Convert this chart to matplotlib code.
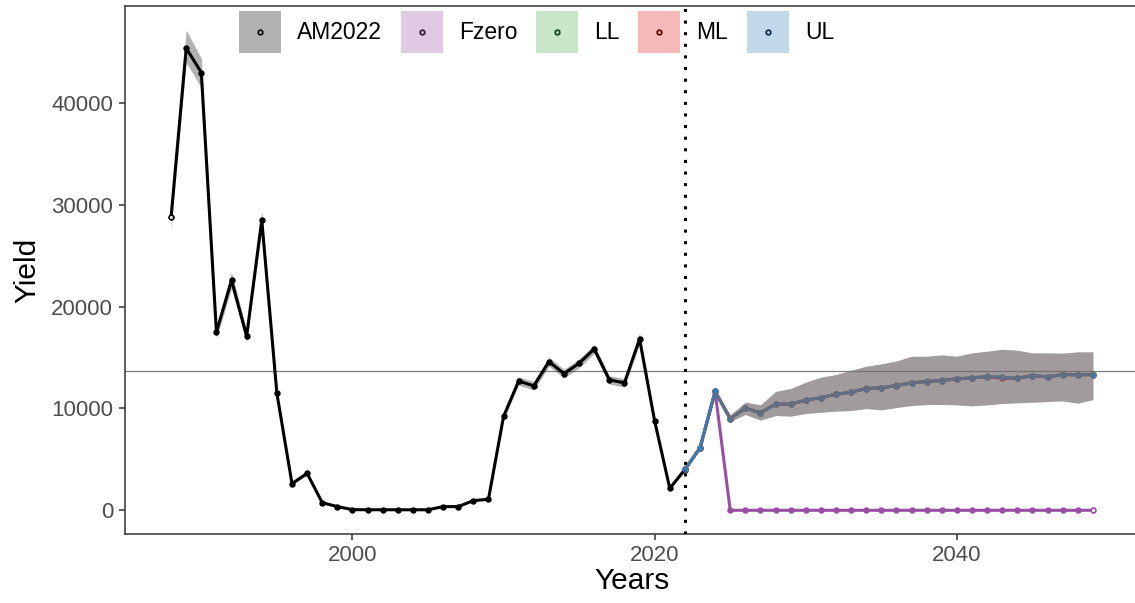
import matplotlib
matplotlib.use("Agg")
import matplotlib.pyplot as plt
from matplotlib.patches import Rectangle
from matplotlib.lines import Line2D

plt.rcParams['font.family'] = ['Liberation Sans', 'DejaVu Sans']

# ---- assessment (historical) yield ----
hist_years = list(range(1988, 2023))
hist_yield = [28800, 45400, 43000, 17500, 22600, 17100, 28500, 11500, 2620, 3630,
              750, 360, 65, 50, 50, 50, 50, 50, 360, 360,
              950, 1080, 9220, 12700, 12220, 14600, 13430, 14440, 15850, 12810,
              12520, 16830, 8760, 2160, 4000]
hist_lo = [27700, 44000, 41500, 16900, 21800, 16500, 27600, 11100, 2480, 3450,
           680, 320, 50, 40, 40, 40, 40, 40, 320, 320,
           880, 1000, 8900, 12300, 11800, 14150, 13000, 14000, 15400, 12400,
           12100, 16300, 8450, 2050, 3850]
hist_hi = [29700, 47180, 44400, 18100, 23400, 17700, 29400, 11900, 2760, 3810,
           820, 400, 80, 60, 60, 60, 60, 60, 400, 400,
           1020, 1160, 9540, 13100, 12640, 15050, 13860, 14880, 16300, 13220,
           12940, 17420, 9070, 2270, 4150]

# ---- projections ----
proj_years = list(range(2022, 2050))
fzero_yield = [4020, 6110, 11670, 0, 0, 0, 0, 0, 0, 0,
               0, 0, 0, 0, 0, 0, 0, 0, 0, 0,
               0, 0, 0, 0, 0, 0, 0, 0]
ll_yield = [4020, 6110, 11670, 8990, 10040, 9580, 10430, 10420, 10830, 11060,
            11410, 11600, 11970, 12040, 12260, 12530, 12660, 12750, 12920, 13010,
            13150, 13080, 12980, 13240, 13110, 13340, 13310, 13340]
ml_yield = [4020, 6110, 11670, 8990, 10030, 9575, 10425, 10425, 10820, 11050,
            11400, 11600, 11960, 12030, 12255, 12520, 12650, 12745, 12910, 13000,
            13140, 12950, 12970, 13235, 13100, 13330, 13300, 13330]
ul_yield = [4020, 6110, 11670, 8990, 10030, 9575, 10425, 10425, 10820, 11050,
            11400, 11600, 11960, 12030, 12255, 12520, 12650, 12745, 12910, 13000,
            13140, 13070, 12970, 13235, 13100, 13330, 13300, 13330]
proj_lo = [4020, 6110, 11600, 8720, 9410, 8860, 9310, 9250, 9510, 9640,
           9740, 9800, 10000, 9870, 10100, 10290, 10390, 10390, 10360, 10260,
           10360, 10490, 10560, 10620, 10690, 10750, 10520, 10880]
proj_hi = [4020, 6110, 11750, 9380, 10620, 10360, 11670, 11960, 12580, 13070,
           13330, 13760, 14150, 14380, 14670, 15130, 15130, 15260, 15130, 15460,
           15620, 15820, 15720, 15460, 15460, 15430, 15560, 15560]
fzero_lo = [4020, 6110, 11600] + [0] * 25
fzero_hi = [4020, 6110, 11750] + [0] * 25

ref_yield = 13700
assess_year = 2022

scenarios = ["AM2022", "Fzero", "LL", "ML", "UL"]
colors = {"AM2022": "#000000", "Fzero": "#984EA3", "LL": "#4DAF4A",
          "ML": "#E41A1C", "UL": "#377EB8"}
key_dots = {"AM2022": "#111111", "Fzero": "#3d1f42", "LL": "#1f461e",
            "ML": "#5b0a0b", "UL": "#16324a"}

series = [
    ("AM2022", hist_years, hist_yield, hist_lo, hist_hi),
    ("Fzero", proj_years, fzero_yield, fzero_lo, fzero_hi),
    ("LL", proj_years, ll_yield, proj_lo, proj_hi),
    ("ML", proj_years, ml_yield, proj_lo, proj_hi),
    ("UL", proj_years, ul_yield, proj_lo, proj_hi),
]

W, H = 1135, 603
fig = plt.figure(figsize=(W / 100, H / 100), dpi=100)
ax = fig.add_axes([125 / W, (H - 534.3) / H, 1014 / W, 528.3 / H])

# lines and points
for name, yrs, vals, lo, hi in series:
    c = colors[name]
    ax.plot(yrs, vals, color=c, lw=2.2, zorder=2, solid_capstyle='round')
    ax.plot(yrs, vals, ls='none', marker='o', ms=3.6, color=c, zorder=2.1)

# open ends of the series
ax.plot(hist_years[:1], hist_yield[:1], ls='none', marker='o', ms=3.2,
        mfc='white', mec='black', mew=0.9, zorder=2.2)
ax.plot(proj_years[-1:], fzero_yield[-1:], ls='none', marker='o', ms=3.2,
        mfc='white', mec=colors["Fzero"], mew=0.9, zorder=2.2)

# uncertainty ribbons on top
for name, yrs, vals, lo, hi in series:
    ax.fill_between(yrs, lo, hi, color=colors[name], alpha=0.3, lw=0, zorder=3)

ax.axhline(ref_yield, color='#7f7f7f', lw=0.9, zorder=1.5)
ax.axvline(assess_year, color='black', lw=2.2, ls=(0, (1, 2.8)), zorder=4)

ax.set_xlim(1984.95, 2052.05)
ax.set_ylim(-2359, 49539)
ax.set_xticks([2000, 2020, 2040])
ax.set_yticks([0, 10000, 20000, 30000, 40000])
ax.tick_params(axis='both', colors='#333333', labelcolor='#4D4D4D',
               labelsize=16, length=4.5, width=1.1)
ax.tick_params(axis='x', pad=3)
ax.tick_params(axis='y', pad=4)
for s in ax.spines.values():
    s.set_color('#333333')
    s.set_linewidth(1.1)
ax.spines['right'].set_visible(False)

ax.set_xlabel("Years", fontsize=21.5, labelpad=1)
ax.set_ylabel("Yield", fontsize=21.5, labelpad=7)


class KeyHandler:
    """Legend key: tinted square with a small ring in its centre."""

    def legend_artist(self, legend, orig_handle, fontsize, handlebox):
        x0, y0 = handlebox.xdescent, handlebox.ydescent
        w, h = handlebox.width, handlebox.height
        name = orig_handle.get_label()
        rect = Rectangle((-x0, -y0), w, h, facecolor=colors[name], alpha=0.3,
                         edgecolor='none', transform=handlebox.get_transform())
        dot = Line2D([w / 2 - x0], [h / 2 - y0], ls='none', marker='o', ms=3.3,
                     mfc='none', mec=key_dots[name], mew=1.3,
                     transform=handlebox.get_transform())
        handlebox.add_artist(rect)
        handlebox.add_artist(dot)
        return rect


handles = [Line2D([], [], label=name) for name in scenarios]
leg = ax.legend(handles, scenarios,
                handler_map={Line2D: KeyHandler()},
                ncol=5, loc='upper left', bbox_to_anchor=(0.1124, 0.99),
                frameon=False, fontsize=16.5, handlelength=1.83, handleheight=2.44,
                handletextpad=0.72, columnspacing=0.8, borderaxespad=0, borderpad=0)
leg.set_zorder(5)

fig.savefig("out.png", dpi=100)
